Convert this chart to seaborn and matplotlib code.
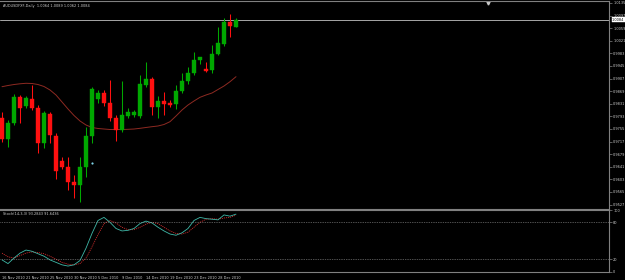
import matplotlib
matplotlib.use("Agg")
import matplotlib.pyplot as plt
import seaborn as sns
import numpy as np
import pandas as pd

# ---------------- data ----------------
dates = ["16 Nov 2010", "17 Nov 2010", "18 Nov 2010", "19 Nov 2010", "21 Nov 2010",
         "22 Nov 2010", "23 Nov 2010", "24 Nov 2010", "25 Nov 2010", "26 Nov 2010",
         "28 Nov 2010", "29 Nov 2010", "30 Nov 2010", "1 Dec 2010", "2 Dec 2010",
         "3 Dec 2010", "5 Dec 2010", "6 Dec 2010", "7 Dec 2010", "8 Dec 2010",
         "9 Dec 2010", "10 Dec 2010", "12 Dec 2010", "13 Dec 2010", "14 Dec 2010",
         "15 Dec 2010", "16 Dec 2010", "17 Dec 2010", "19 Dec 2010", "20 Dec 2010",
         "21 Dec 2010", "22 Dec 2010", "23 Dec 2010", "24 Dec 2010", "26 Dec 2010",
         "27 Dec 2010", "28 Dec 2010", "29 Dec 2010", "30 Dec 2010", "31 Dec 2010"]

opens = [0.9788, 0.9726, 0.9774, 0.9851, 0.9824, 0.9845, 0.9817, 0.9712, 0.9800, 0.9734,
         0.9659, 0.9641, 0.9596, 0.9586, 0.9639, 0.9734, 0.9845, 0.9863, 0.9833, 0.9787,
         0.9752, 0.9794, 0.9797, 0.9794, 0.9888, 0.9906, 0.9822, 0.9840, 0.9834, 0.9829,
         0.9870, 0.9901, 0.9923, 0.9963, 0.9936, 0.9933, 0.9981, 1.0010, 1.0079, 1.0064]
highs = [0.9806, 0.9782, 0.9860, 0.9857, 0.9854, 0.9888, 0.9827, 0.9809, 0.9806, 0.9743,
         0.9671, 0.9671, 0.9616, 0.9671, 0.9762, 0.9882, 0.9872, 0.9872, 0.9903, 0.9797,
         0.9901, 0.9818, 0.9812, 0.9918, 0.9958, 0.9912, 0.9855, 0.9867, 0.9842, 0.9888,
         0.9924, 0.9943, 0.9988, 0.9973, 0.9958, 1.0008, 1.0062, 1.0089, 1.0102, 1.0089]
lows = [0.9716, 0.9701, 0.9767, 0.9773, 0.9818, 0.9812, 0.9683, 0.9698, 0.9714, 0.9604,
        0.9634, 0.9571, 0.9547, 0.9536, 0.9611, 0.9712, 0.9833, 0.9824, 0.9779, 0.9720,
        0.9747, 0.9788, 0.9791, 0.9788, 0.9883, 0.9797, 0.9788, 0.9797, 0.9821, 0.9814,
        0.9864, 0.9891, 0.9918, 0.9951, 0.9927, 0.9923, 0.9978, 1.0005, 1.0033, 1.0062]
closes = [0.9725, 0.9774, 0.9852, 0.9817, 0.9848, 0.9817, 0.9714, 0.9802, 0.9737, 0.9628,
          0.9641, 0.9596, 0.9586, 0.9639, 0.9734, 0.9875, 0.9863, 0.9833, 0.9787, 0.9752,
          0.9797, 0.9807, 0.9806, 0.9891, 0.9906, 0.9822, 0.9840, 0.9830, 0.9827, 0.9870,
          0.9901, 0.9923, 0.9963, 0.9971, 0.9931, 0.9981, 1.0013, 1.0079, 1.0066, 1.0084]
ma = [0.98825, 0.98861, 0.98891, 0.98913, 0.98928, 0.98922, 0.98891, 0.98831, 0.98726, 0.98575,
      0.98364, 0.98153, 0.97957, 0.97791, 0.97670, 0.97595, 0.97565, 0.97549, 0.97534, 0.97534,
      0.97534, 0.97540, 0.97549, 0.97570, 0.97595, 0.97619, 0.97640, 0.97685, 0.97770, 0.97941,
      0.98122, 0.98273, 0.98394, 0.98505, 0.98575, 0.98635, 0.98741, 0.98846, 0.98976, 0.99127]
stoch_main = [19, 13, 22, 30, 35, 33, 29, 25, 19, 15, 11, 9, 11, 18, 38, 62, 83, 88, 80, 70,
              66, 67, 70, 78, 82, 79, 72, 66, 61, 59, 63, 70, 83, 88, 86, 85, 84, 92, 90, 93.28]
stoch_signal = [30, 24, 22, 26, 30, 32, 31, 29, 25, 20, 15, 12, 11, 13, 22, 40, 60, 78, 83, 79,
                72, 68, 68, 72, 77, 80, 78, 72, 66, 62, 61, 64, 72, 80, 85, 86, 85, 87, 88, 91.64]
marker_bar = [15]
marker_price = [0.9652]

price_ticks = [1.0135, 1.0097, 1.0059, 1.0021, 0.9983, 0.9945, 0.9907, 0.9869, 0.9831,
               0.9793, 0.9755, 0.9717, 0.9679, 0.9641, 0.9603, 0.9565, 0.9527]
stoch_ticks = [100, 80, 20, 0]
date_tick_bars = [0, 4, 8, 12, 16, 20, 24, 28, 32, 36]

title_text = "AUDUSDFXF,Daily  1.0064 1.0089 1.0062 1.0084"
stoch_text = "Stoch(14,3,3) 93.2843 91.6436"

# ---------------- style ----------------
sns.set_theme(style="dark")
plt.rcParams['font.family'] = ['DejaVu Sans']

BG = "black"
GRID = "#808080"
TXT = "#D0D0D0"
UP = "#00A800"
DN = "#FF1010"
FS = 2.5

df = pd.DataFrame({"bar": np.arange(len(dates)), "open": opens, "high": highs,
                   "low": lows, "close": closes, "ma": ma,
                   "main": stoch_main, "signal": stoch_signal})

W, H = 625, 280
fig = plt.figure(figsize=(W / 100, H / 100), dpi=100, facecolor=BG)
ax1 = fig.add_axes([0, 1 - 209 / H, 609 / W, 208 / H])
ax2 = fig.add_axes([0, 1 - 272 / H, 609 / W, 62 / H])

for ax in (ax1, ax2):
    ax.set_facecolor(BG)
    ax.grid(False)
    for s in ax.spines.values():
        s.set_color(GRID)
        s.set_linewidth(0.8)
    ax.spines['left'].set_visible(False)
    ax.set_xlim(-1 / 3, -1 / 3 + 609 / 6)

# ---- candles ----
up = df["close"] >= df["open"]
colors = np.where(up, UP, DN)
ax1.vlines(df["bar"], df["low"], df["high"], colors=colors, linewidth=0.75, zorder=2)
body_bottom = np.minimum(df["open"], df["close"])
body_h = np.maximum(np.abs(df["close"] - df["open"]), 0.00008)
ax1.bar(df["bar"], body_h, bottom=body_bottom, width=0.62, color=colors,
        edgecolor=colors, linewidth=0.3, zorder=3)

# moving average
sns.lineplot(data=df, x="bar", y="ma", ax=ax1, color="#8E2A22", linewidth=0.7, zorder=1)
# marker dot
ax1.scatter(marker_bar, marker_price, s=2.5, color="#7FD4E8", zorder=4, linewidths=0)

# current price line
last = closes[-1]
ax1.axhline(last, color="#A8A8A8", linewidth=0.7, zorder=1)

ax1.set_ylim(1.01440 - 0.0003016 * 209, 1.01440 - 0.0003016 * 1)
ax1.yaxis.tick_right()
ax1.set_yticks(price_ticks)
ax1.set_yticklabels([f"{v:.4f}" for v in price_ticks])
ax1.tick_params(axis='y', colors=GRID, labelcolor=TXT, labelsize=FS, length=2,
                width=0.5, pad=1, direction='out')
ax1.set_xticks([])
ax1.set_xlabel("")
ax1.set_ylabel("")

ax1.annotate(f"{last:.4f}", xy=(1.0, last), xycoords=('axes fraction', 'data'),
             xytext=(2.2, 0), textcoords='offset points', fontsize=FS, color='black',
             va='center', ha='left',
             bbox=dict(boxstyle='square,pad=0.15', fc='white', ec='white', lw=0.3))

ax1.text(3 / 609, 1 - 5 / 208, title_text, transform=ax1.transAxes, fontsize=FS,
         color=TXT, va='center', ha='left')
ax1.plot([488 / 609], [1 - 1.5 / 208], marker='v', markersize=2.2, color='#C8C8C8',
         transform=ax1.transAxes, clip_on=False)

# ---- stochastic ----
sns.lineplot(data=df, x="bar", y="signal", ax=ax2, color="#E03030", linewidth=0.55,
             linestyle=(0, (1.5, 1.2)))
sns.lineplot(data=df, x="bar", y="main", ax=ax2, color="#3FB8A8", linewidth=0.6)
for lv in (80, 20):
    ax2.axhline(lv, color="#A0A0A0", linewidth=0.5, linestyle=(0, (1, 1.5)))
ax2.set_ylim((271.6 - 272) / 0.617, (271.6 - 210) / 0.617)
ax2.yaxis.tick_right()
ax2.set_yticks(stoch_ticks)
ax2.set_yticklabels([str(v) for v in stoch_ticks])
ax2.tick_params(axis='y', colors=GRID, labelcolor=TXT, labelsize=FS, length=2,
                width=0.5, pad=1, direction='out')
ax2.set_xticks(date_tick_bars)
ax2.set_xticklabels([dates[i] for i in date_tick_bars], ha='left')
ax2.tick_params(axis='x', colors=GRID, labelcolor=TXT, labelsize=FS, length=2.5,
                width=0.5, pad=0.5, direction='out')
ax2.set_xlabel("")
ax2.set_ylabel("")
ax2.text(3 / 609, 1 - 4 / 62, stoch_text, transform=ax2.transAxes, fontsize=FS,
         color=TXT, va='center', ha='left')

fig.savefig("out.png", dpi=100, facecolor=BG)
